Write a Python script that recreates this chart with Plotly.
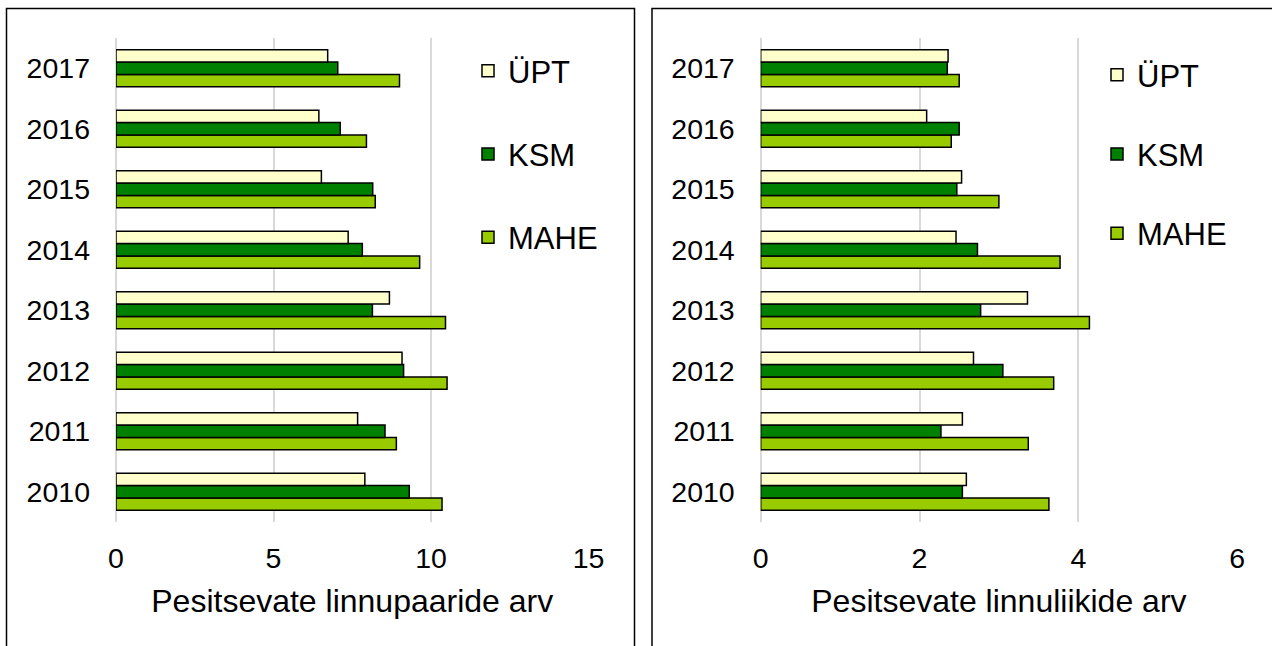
import plotly.graph_objects as go

years = ["2010", "2011", "2012", "2013", "2014", "2015", "2016", "2017"]
series_names = ["ÜPT", "KSM", "MAHE"]

# Pesitsevate linnupaaride arv (left panel)
pairs_upt = [7.90, 7.67, 9.08, 8.68, 7.37, 6.52, 6.44, 6.72]
pairs_ksm = [9.31, 8.54, 9.13, 8.14, 7.82, 8.15, 7.12, 7.04]
pairs_mahe = [10.35, 8.90, 10.51, 10.46, 9.64, 8.23, 7.95, 9.00]

# Pesitsevate linnuliikide arv (right panel)
species_upt = [2.59, 2.54, 2.68, 3.36, 2.46, 2.53, 2.09, 2.36]
species_ksm = [2.54, 2.27, 3.05, 2.77, 2.73, 2.47, 2.50, 2.35]
species_mahe = [3.63, 3.37, 3.69, 4.14, 3.77, 3.00, 2.40, 2.50]

left_title = "Pesitsevate linnupaaride arv"
right_title = "Pesitsevate linnuliikide arv"

colors = {"ÜPT": "#FFFFCC", "KSM": "#008000", "MAHE": "#99CC00"}
ranks = {"ÜPT": 1, "KSM": 2, "MAHE": 3}

FONT = "Liberation Sans, Arial, sans-serif"

fig = go.Figure()

left_data = {"ÜPT": pairs_upt, "KSM": pairs_ksm, "MAHE": pairs_mahe}
right_data = {"ÜPT": species_upt, "KSM": species_ksm, "MAHE": species_mahe}

# add in reverse so that ÜPT is on top within each group
for name in ["MAHE", "KSM", "ÜPT"]:
    fig.add_trace(go.Bar(
        y=years, x=left_data[name], orientation="h", name=name,
        marker=dict(color=colors[name], line=dict(color="black", width=1.5)),
        xaxis="x", yaxis="y", legend="legend",
        legendgroup="L" + name, legendrank=ranks[name],
    ))
for name in ["MAHE", "KSM", "ÜPT"]:
    fig.add_trace(go.Bar(
        y=years, x=right_data[name], orientation="h", name=name,
        marker=dict(color=colors[name], line=dict(color="black", width=1.5)),
        xaxis="x2", yaxis="y2", legend="legend2",
        legendgroup="R" + name, legendrank=ranks[name],
    ))

W, H = 1272, 646
ydom = [1 - 522 / H, 1 - 38 / H]

xcommon = dict(
    showgrid=True, gridcolor="#d9d9d9", gridwidth=1.5,
    zeroline=True, zerolinecolor="#d9d9d9", zerolinewidth=1.5,
    showline=False, ticks="", automargin=False,
    tickfont=dict(family=FONT, size=28.5, color="black"),
    ticklabelstandoff=16,
    title_font=dict(family=FONT, size=32, color="black"),
    fixedrange=True,
)
ycommon = dict(
    type="category", categoryorder="array", categoryarray=years,
    showgrid=False, zeroline=False, showline=False, ticks="", automargin=False,
    tickfont=dict(family=FONT, size=28.5, color="black"),
    ticklabelstandoff=25, domain=ydom, fixedrange=True,
)

legcommon = dict(
    font=dict(family=FONT, size=31, color="black"),
    bgcolor="rgba(0,0,0,0)",
    yanchor="top", xanchor="left", traceorder="grouped",
)

fig.update_layout(
    template="none",
    width=W, height=H, autosize=False,
    margin=dict(l=0, r=0, t=0, b=0, pad=0),
    paper_bgcolor="white", plot_bgcolor="white",
    barmode="group", bargap=0.39, bargroupgap=0,
    showlegend=True,
    xaxis=dict(domain=[116 / W, 588.5 / W], range=[0, 15], dtick=5,
               title=dict(text=left_title, standoff=17), anchor="y", **xcommon),
    yaxis=dict(anchor="x", **ycommon),
    xaxis2=dict(domain=[760.7 / W, 1237.1 / W], range=[0, 6], dtick=2,
                title=dict(text=right_title, standoff=17), anchor="y2", **xcommon),
    yaxis2=dict(anchor="x2", **ycommon),
    legend=dict(x=468 / W, y=1 - 44 / H, tracegroupgap=40, **legcommon),
    legend2=dict(x=1097 / W, y=1 - 48 / H, tracegroupgap=36, **legcommon),
    shapes=[
        dict(type="rect", xref="paper", yref="paper",
             x0=6.5 / W, x1=634.5 / W, y0=-0.05, y1=1 - 8.5 / H,
             line=dict(color="black", width=1.5), layer="below"),
        dict(type="rect", xref="paper", yref="paper",
             x0=652 / W, x1=1.05, y0=-0.05, y1=1 - 8.5 / H,
             line=dict(color="black", width=1.5), layer="below"),
    ],
)

fig.write_html(
    "out.html",
    config={"displayModeBar": False, "responsive": False},
    post_script="document.body.style.margin='0';document.body.style.overflow='hidden';",
)
